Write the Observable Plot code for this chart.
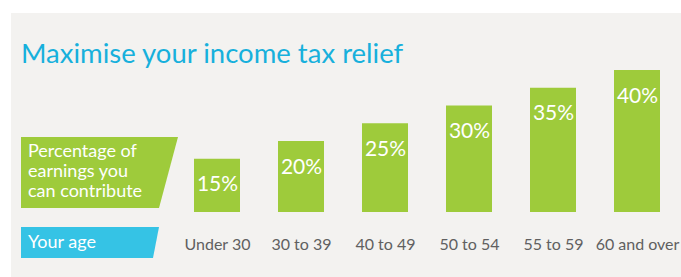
<!DOCTYPE html>
<html>
<head>
<meta charset="utf-8">
<script src="https://cdn.jsdelivr.net/npm/d3@7"></script>
<script src="https://cdn.jsdelivr.net/npm/@observablehq/plot@0.6"></script>
<style>
  html, body { margin: 0; padding: 0; background: #ffffff; }
  #wrap { position: relative; width: 681px; height: 277px; overflow: hidden; font-family: Lato, sans-serif; }
  #panel { position: absolute; left: 11px; top: 13px; right: 0; bottom: 0; background: #f3f2f0; }
  #title { position: absolute; left: 21px; top: 38.5px; font-size: 27.5px; line-height: 28px; color: #17b0dc; white-space: nowrap; }
  #chart { position: absolute; left: 0; top: 0; }
  .tag { position: absolute; color: #ffffff; box-sizing: border-box; white-space: nowrap; }
  #tagPct { left: 21px; top: 137px; width: 157px; height: 71px; background: #9ecb3b;
            clip-path: polygon(0 0, 157px 0, 138px 71px, 0 71px);
            padding: 3px 0 0 7px; font-size: 18px; line-height: 20px; }
  #tagAge { left: 21px; top: 227px; width: 138px; height: 31px; background: #35c3e5;
            clip-path: polygon(0 0, 138px 0, 132px 31px, 0 31px);
            padding: 0 0 0 7px; font-size: 18px; line-height: 29px; }
</style>
</head>
<body>
<div id="wrap">
  <div id="panel"></div>
  <div id="chart"></div>
  <div id="title">Maximise your income tax relief</div>
  <div class="tag" id="tagPct">Percentage of<br>earnings you<br>can contribute</div>
  <div class="tag" id="tagAge">Your age</div>
</div>
<script>
const ages = ["Under 30", "30 to 39", "40 to 49", "50 to 54", "55 to 59", "60 and over"];
const percentages = [15, 20, 25, 30, 35, 40];
const barColor = "#9ecb3b";

const data = ages.map((age, i) => ({age, pct: percentages[i]}));

const chart = Plot.plot({
  width: 681,
  height: 277,
  marginLeft: 175,
  marginRight: 2,
  marginTop: 70,
  marginBottom: 65,
  style: {background: "transparent", fontFamily: "Lato, sans-serif", overflow: "visible"},
  x: {domain: ages, paddingInner: 0.45, paddingOuter: 0.225, label: null},
  y: {domain: [0, 40], axis: null},
  marks: [
    Plot.barY(data, {x: "age", y: "pct", fill: barColor}),
    Plot.text(data, {x: "age", y: "pct", text: d => `${d.pct}%`, fill: "#ffffff",
      fontSize: 21, lineAnchor: "bottom", dy: 32}),
    Plot.axisX({tickSize: 0, tickPadding: 26, fontSize: 16, color: "#606060", label: null})
  ]
});
document.getElementById("chart").appendChild(chart);
</script>
</body>
</html>
